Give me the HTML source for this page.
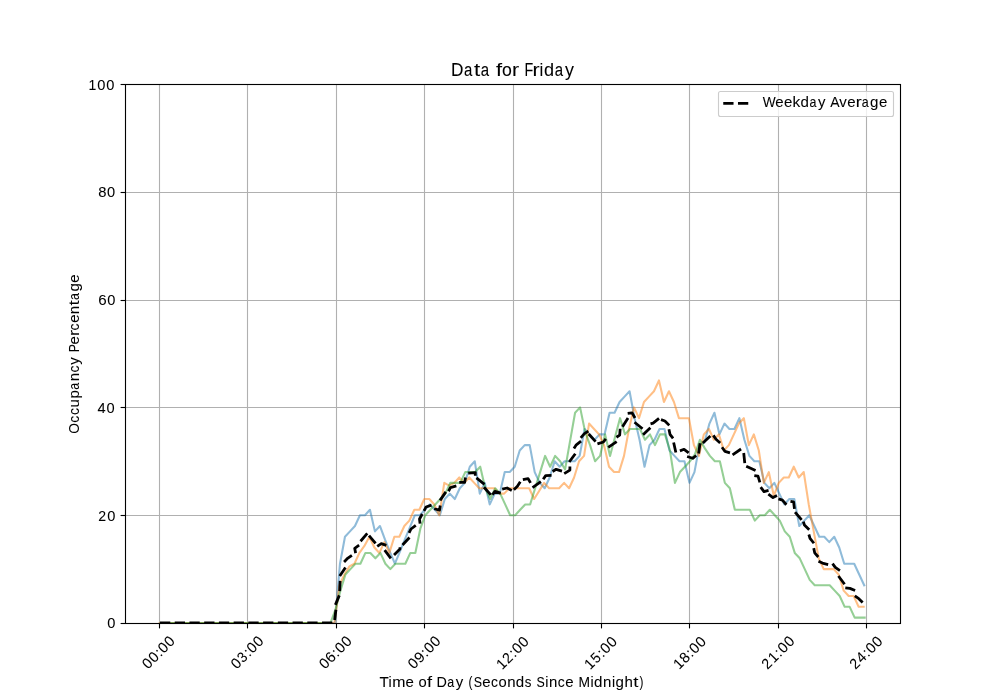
<!DOCTYPE html><html><head><meta charset="utf-8"><style>html,body{margin:0;padding:0;background:#fff;}svg{display:block;will-change:transform;}text{font-family:"Liberation Sans", sans-serif;fill:#000;}</style></head><body>
<svg width="1000" height="700" viewBox="0 0 1000 700">
<rect width="1000" height="700" fill="#fff"/>
<line x1="159.5" y1="84" x2="159.5" y2="623" stroke="#b0b0b0" stroke-width="1.11"/>
<line x1="247.5" y1="84" x2="247.5" y2="623" stroke="#b0b0b0" stroke-width="1.11"/>
<line x1="336.5" y1="84" x2="336.5" y2="623" stroke="#b0b0b0" stroke-width="1.11"/>
<line x1="424.5" y1="84" x2="424.5" y2="623" stroke="#b0b0b0" stroke-width="1.11"/>
<line x1="513.5" y1="84" x2="513.5" y2="623" stroke="#b0b0b0" stroke-width="1.11"/>
<line x1="601.5" y1="84" x2="601.5" y2="623" stroke="#b0b0b0" stroke-width="1.11"/>
<line x1="689.5" y1="84" x2="689.5" y2="623" stroke="#b0b0b0" stroke-width="1.11"/>
<line x1="778.5" y1="84" x2="778.5" y2="623" stroke="#b0b0b0" stroke-width="1.11"/>
<line x1="866.5" y1="84" x2="866.5" y2="623" stroke="#b0b0b0" stroke-width="1.11"/>
<line x1="125" y1="515.5" x2="900" y2="515.5" stroke="#b0b0b0" stroke-width="1.11"/>
<line x1="125" y1="407.5" x2="900" y2="407.5" stroke="#b0b0b0" stroke-width="1.11"/>
<line x1="125" y1="300.5" x2="900" y2="300.5" stroke="#b0b0b0" stroke-width="1.11"/>
<line x1="125" y1="192.5" x2="900" y2="192.5" stroke="#b0b0b0" stroke-width="1.11"/>
<g fill="none" stroke-width="2.08" stroke-linejoin="round" stroke-linecap="square" clip-path="url(#ax)">
<clipPath id="ax"><rect x="125" y="84" width="775" height="539"/></clipPath>
<polyline points="160.25,623.00 165.24,623.00 170.24,623.00 175.23,623.00 180.22,623.00 185.21,623.00 190.21,623.00 195.20,623.00 200.19,623.00 205.18,623.00 210.18,623.00 215.17,623.00 220.16,623.00 225.15,623.00 230.15,623.00 235.14,623.00 240.13,623.00 245.12,623.00 250.12,623.00 255.11,623.00 260.10,623.00 265.09,623.00 270.09,623.00 275.08,623.00 280.07,623.00 285.06,623.00 290.06,623.00 295.05,623.00 300.04,623.00 305.04,623.00 310.03,623.00 315.02,623.00 320.01,623.00 325.01,623.00 330.00,623.00 334.99,623.00 339.98,563.71 344.98,536.76 349.97,531.37 354.96,525.98 359.95,515.20 364.95,515.20 369.94,509.81 374.93,531.37 379.92,525.98 384.92,539.46 389.91,551.85 394.90,563.71 399.89,551.58 404.89,539.46 409.88,527.33 414.87,515.20 419.87,515.20 424.86,509.81 429.85,504.42 434.84,509.81 439.84,515.20 444.83,499.03 449.82,493.64 454.81,499.03 459.81,488.25 464.80,482.86 469.79,466.69 474.78,461.30 479.78,493.64 484.77,482.86 489.76,504.42 494.75,493.64 499.75,493.64 504.74,472.08 509.73,472.08 514.72,466.69 519.72,450.52 524.71,445.13 529.70,445.13 534.70,472.08 539.69,482.86 544.68,488.25 549.67,477.47 554.67,461.30 559.66,466.69 564.65,461.30 569.64,461.30 574.64,461.30 579.63,455.91 584.62,428.96 589.61,434.35 594.61,439.74 599.60,434.35 604.59,434.35 609.58,412.79 614.58,412.79 619.57,402.01 624.56,396.62 629.55,391.23 634.55,418.18 639.54,439.74 644.53,466.69 649.52,445.13 654.52,439.74 659.51,428.96 664.50,428.96 669.50,450.52 674.49,455.91 679.48,461.30 684.47,461.30 689.47,482.86 694.46,472.08 699.45,445.13 704.44,442.44 709.44,423.57 714.43,412.79 719.42,434.35 724.41,423.57 729.41,428.96 734.40,428.96 739.39,418.18 744.38,439.74 749.38,455.91 754.37,461.30 759.36,461.30 764.35,482.86 769.35,488.25 774.34,482.86 779.33,493.64 784.33,504.42 789.32,499.03 794.31,499.03 799.30,525.98 804.30,520.59 809.29,515.20 814.28,525.98 819.27,536.76 824.27,536.76 829.26,542.15 834.25,536.76 839.24,547.54 844.24,563.71 849.23,563.71 854.22,563.71 859.21,574.49 864.21,585.27" stroke="#1f77b4" stroke-opacity="0.5"/>
<polyline points="159.70,623.00 164.69,623.00 169.69,623.00 174.68,623.00 179.67,623.00 184.66,623.00 189.66,623.00 194.65,623.00 199.64,623.00 204.63,623.00 209.63,623.00 214.62,623.00 219.61,623.00 224.60,623.00 229.60,623.00 234.59,623.00 239.58,623.00 244.57,623.00 249.57,623.00 254.56,623.00 259.55,623.00 264.54,623.00 269.54,623.00 274.53,623.00 279.52,623.00 284.51,623.00 289.51,623.00 294.50,623.00 299.49,623.00 304.49,623.00 309.48,623.00 314.47,623.00 319.46,623.00 324.46,623.00 329.45,623.00 334.44,623.00 339.43,585.27 344.43,574.49 349.42,566.40 354.41,563.71 359.40,552.93 364.40,545.92 369.39,536.76 374.38,547.54 379.37,552.93 384.37,542.15 389.36,552.93 394.35,536.76 399.34,536.76 404.34,525.98 409.33,520.59 414.32,509.81 419.32,509.81 424.31,499.03 429.30,499.03 434.29,504.42 439.29,515.20 444.28,482.86 449.27,485.56 454.26,482.86 459.26,477.47 464.25,482.86 469.24,477.47 474.23,482.86 479.23,488.25 484.22,488.25 489.21,488.25 494.20,488.25 499.20,493.64 504.19,493.64 509.18,488.25 514.17,488.25 519.17,488.25 524.16,488.25 529.15,488.25 534.15,499.03 539.14,490.95 544.13,482.86 549.12,488.25 554.12,488.25 559.11,488.25 564.10,482.86 569.09,488.25 574.09,477.47 579.08,461.30 584.07,455.91 589.06,423.57 594.06,428.96 599.05,434.35 604.04,445.13 609.03,466.69 614.03,472.08 619.02,472.08 624.01,455.91 629.00,428.96 634.00,407.40 638.99,418.18 643.98,402.01 648.97,396.62 653.97,391.23 658.96,380.45 663.95,402.01 668.95,391.23 673.94,402.01 678.93,418.18 683.92,418.18 688.92,418.18 693.91,445.13 698.90,455.91 703.89,434.35 708.89,428.96 713.88,439.74 718.87,434.35 723.86,450.52 728.86,445.13 733.85,434.35 738.84,423.57 743.83,418.18 748.83,445.13 753.82,434.35 758.81,450.52 763.80,482.86 768.80,472.08 773.79,495.80 778.78,482.86 783.78,477.47 788.77,477.47 793.76,466.69 798.75,477.47 803.75,472.08 808.74,504.42 813.73,531.37 818.72,558.32 823.72,569.10 828.71,569.10 833.70,569.10 838.69,574.49 843.69,590.66 848.68,596.05 853.67,596.05 858.66,606.83 863.66,606.83" stroke="#ff7f0e" stroke-opacity="0.5"/>
<polyline points="160.70,623.00 165.69,623.00 170.69,623.00 175.68,623.00 180.67,623.00 185.66,623.00 190.66,623.00 195.65,623.00 200.64,623.00 205.63,623.00 210.63,623.00 215.62,623.00 220.61,623.00 225.60,623.00 230.60,623.00 235.59,623.00 240.58,623.00 245.57,623.00 250.57,623.00 255.56,623.00 260.55,623.00 265.54,623.00 270.54,623.00 275.53,623.00 280.52,623.00 285.51,623.00 290.51,623.00 295.50,623.00 300.49,623.00 305.49,623.00 310.48,623.00 315.47,623.00 320.46,623.00 325.46,623.00 330.45,623.00 335.44,609.52 340.43,590.66 345.43,574.49 350.42,569.10 355.41,563.71 360.40,563.71 365.40,552.93 370.39,552.93 375.38,558.32 380.37,552.93 385.37,563.71 390.36,569.10 395.35,563.71 400.34,563.71 405.34,563.71 410.33,552.93 415.32,552.93 420.32,528.67 425.31,515.20 430.30,509.81 435.29,504.42 440.29,499.03 445.28,493.64 450.27,482.86 455.26,482.86 460.26,482.86 465.25,472.08 470.24,472.08 475.23,472.08 480.23,466.69 485.22,488.25 490.21,499.03 495.20,488.25 500.20,493.64 505.19,504.42 510.18,515.20 515.17,515.20 520.17,509.81 525.16,504.42 530.15,504.42 535.15,488.25 540.14,472.08 545.13,455.91 550.12,466.69 555.12,455.91 560.11,461.30 565.10,469.38 570.09,440.82 575.09,412.79 580.08,407.40 585.07,431.65 590.06,445.13 595.06,461.30 600.05,455.91 605.04,434.35 610.03,455.91 615.03,437.05 620.02,418.18 625.01,434.35 630.00,428.96 635.00,428.96 639.99,428.96 644.98,439.74 649.97,434.35 654.97,445.13 659.96,434.35 664.95,434.35 669.95,450.52 674.94,482.86 679.93,472.08 684.92,466.69 689.92,461.30 694.91,454.29 699.90,439.74 704.89,448.36 709.89,455.91 714.88,461.30 719.87,461.30 724.86,482.86 729.86,488.25 734.85,509.81 739.84,509.81 744.83,509.81 749.83,509.81 754.82,520.59 759.81,515.20 764.80,515.20 769.80,509.81 774.79,515.20 779.78,520.59 784.78,531.37 789.77,536.76 794.76,552.93 799.75,558.32 804.75,569.10 809.74,579.88 814.73,585.27 819.72,585.27 824.72,585.27 829.71,585.27 834.70,590.66 839.69,596.05 844.69,606.83 849.68,606.83 854.67,617.61 859.66,617.61 864.66,617.61" stroke="#2ca02c" stroke-opacity="0.5"/>
<polyline points="160,623 334.74,623" stroke="#000" stroke-width="2.78" stroke-dasharray="10.28 4.45" stroke-linecap="butt"/>
<path d="M334.57,620.00 L335.93,609.80 M335.38,604.85 L339.32,595.35 M339.68,591.14 L340.12,580.86 M339.75,576.03 L345.45,567.47 M344.06,561.94 L347.90,558.10 L351.87,555.32 M355.62,553.12 L354.70,548.30 L359.10,545.23 M360.55,541.24 L367.25,533.46 M369.01,535.55 L375.59,543.45 M377.23,546.45 L381.30,543.60 L386.33,545.32 M384.65,550.20 L390.85,558.40 M394.04,554.96 L400.00,549.00 L400.00,547.15 M402.51,545.03 L409.49,537.47 M409.07,532.86 L411.00,529.00 L415.77,525.42 M420.07,523.55 L419.50,519.00 L422.27,514.02 M424.01,510.98 L426.00,507.00 L431.54,505.15 M434.14,508.77 L439.50,510.20 L440.24,505.52 M440.06,500.40 L445.84,491.90 M448.50,491.25 L450.40,487.60 L456.35,485.96 M459.25,482.40 L464.60,482.40 L465.50,477.56 M468.22,473.07 L475.30,472.60 L475.30,475.78 M476.42,477.91 L484.48,484.29 M483.96,487.28 L490.84,494.92 M492.51,494.82 L494.90,491.40 L500.79,493.04 M502.18,489.08 L507.10,488.00 L511.76,490.41 M513.88,489.68 L517.40,486.30 L520.28,481.73 M522.86,479.70 L528.10,478.60 L530.53,482.88 M532.52,487.54 L540.88,481.56 M543.20,479.28 L545.70,475.60 L551.53,475.47 M552.59,471.47 L556.10,469.30 L561.99,471.08 M564.20,473.66 L569.90,470.10 L569.90,466.54 M569.21,462.04 L575.29,453.76 M573.95,448.40 L576.30,444.80 L581.05,441.17 M580.75,437.91 L584.40,433.70 L588.34,431.12 M588.69,434.00 L595.61,441.60 M597.42,443.87 L603.40,442.00 L605.86,438.82 M608.21,447.46 L616.69,441.64 M616.41,437.25 L619.70,435.10 L620.16,428.77 M622.50,426.64 L628.00,417.96 M627.68,413.49 L632.10,412.90 L635.02,417.94 M634.56,422.26 L642.54,428.74 M643.03,434.85 L650.37,427.65 M650.53,423.86 L653.10,423.10 L659.01,418.33 M661.01,419.66 L664.90,421.00 L669.26,425.36 M668.94,429.21 L670.00,434.30 L673.09,438.34 M673.64,442.53 L675.86,452.57 M679.90,450.91 L684.10,449.30 L688.68,452.82 M687.16,456.45 L692.70,458.30 L696.15,455.51 M698.65,453.49 L700.05,443.31 M702.83,442.90 L710.37,435.90 M713.34,435.37 L716.00,439.30 L720.15,442.96 M721.97,447.23 L725.00,451.30 L729.98,452.81 M732.55,454.79 L741.05,449.01 M743.72,452.99 L744.78,463.21 M746.24,466.24 L755.56,470.56 M754.31,475.61 L758.00,476.10 L759.90,482.37 M760.68,487.14 L764.00,491.60 L768.56,490.39 M768.37,494.06 L773.00,497.60 L776.98,495.61 M778.45,498.84 L782.40,500.10 L786.39,504.76 M790.46,501.32 L793.60,501.80 L794.47,508.85 M795.07,512.04 L801.63,519.96 M803.38,521.69 L804.40,525.00 L809.22,529.82 M808.86,534.50 L810.00,538.30 L813.92,543.25 M813.72,548.13 L814.70,552.80 L818.28,556.98 M818.50,561.15 L822.40,563.10 L828.14,564.54 M832.52,563.61 L835.30,567.40 L839.91,570.55 M838.42,575.99 L844.58,584.21 M845.29,587.87 L849.90,588.40 L855.13,590.52 M854.83,595.92 L858.80,598.70 L862.64,602.54" stroke="#000" stroke-width="2.78" stroke-linecap="butt"/>
</g>
<g stroke="#000" stroke-width="1.11" fill="none">
<rect x="125.5" y="84.5" width="775" height="539"/>
<line x1="120.6" y1="623.5" x2="125.5" y2="623.5"/>
<line x1="120.6" y1="515.5" x2="125.5" y2="515.5"/>
<line x1="120.6" y1="407.5" x2="125.5" y2="407.5"/>
<line x1="120.6" y1="300.5" x2="125.5" y2="300.5"/>
<line x1="120.6" y1="192.5" x2="125.5" y2="192.5"/>
<line x1="120.6" y1="84.5" x2="125.5" y2="84.5"/>
<line x1="159.5" y1="623.5" x2="159.5" y2="628.4"/>
<line x1="247.5" y1="623.5" x2="247.5" y2="628.4"/>
<line x1="336.5" y1="623.5" x2="336.5" y2="628.4"/>
<line x1="424.5" y1="623.5" x2="424.5" y2="628.4"/>
<line x1="513.5" y1="623.5" x2="513.5" y2="628.4"/>
<line x1="601.5" y1="623.5" x2="601.5" y2="628.4"/>
<line x1="689.5" y1="623.5" x2="689.5" y2="628.4"/>
<line x1="778.5" y1="623.5" x2="778.5" y2="628.4"/>
<line x1="866.5" y1="623.5" x2="866.5" y2="628.4"/>
</g>
<g transform="translate(147.80,670.02) rotate(-45)" font-size="14.72" stroke="#000" stroke-width="0.06"><text transform="translate(0.34,0) scale(0.995,1)">0</text><text transform="translate(9.17,0) scale(0.995,1)">0</text><text transform="translate(17.91,0) scale(1.021,1)">:</text><text transform="translate(22.67,0) scale(0.995,1)">0</text><text transform="translate(31.50,0) scale(0.995,1)">0</text></g>
<g transform="translate(236.49,670.02) rotate(-45)" font-size="14.72" stroke="#000" stroke-width="0.06"><text transform="translate(0.34,0) scale(0.995,1)">0</text><text transform="translate(9.35,0) scale(0.955,1)">3</text><text transform="translate(17.91,0) scale(1.021,1)">:</text><text transform="translate(22.67,0) scale(0.995,1)">0</text><text transform="translate(31.50,0) scale(0.995,1)">0</text></g>
<g transform="translate(324.65,670.11) rotate(-45)" font-size="14.72" stroke="#000" stroke-width="0.06"><text transform="translate(0.34,0) scale(0.995,1)">0</text><text transform="translate(9.03,0) scale(1.030,1)">6</text><text transform="translate(17.91,0) scale(1.021,1)">:</text><text transform="translate(22.67,0) scale(0.995,1)">0</text><text transform="translate(31.50,0) scale(0.995,1)">0</text></g>
<g transform="translate(413.60,670.11) rotate(-45)" font-size="14.72" stroke="#000" stroke-width="0.06"><text transform="translate(0.34,0) scale(0.995,1)">0</text><text transform="translate(8.99,0) scale(1.028,1)">9</text><text transform="translate(17.91,0) scale(1.021,1)">:</text><text transform="translate(22.67,0) scale(0.995,1)">0</text><text transform="translate(31.50,0) scale(0.995,1)">0</text></g>
<g transform="translate(501.80,670.61) rotate(-45)" font-size="14.72" stroke="#000" stroke-width="0.06"><text transform="translate(0.46,0) scale(0.950,1)">1</text><text transform="translate(9.14,0) scale(0.959,1)">2</text><text transform="translate(17.91,0) scale(1.021,1)">:</text><text transform="translate(22.67,0) scale(0.995,1)">0</text><text transform="translate(31.50,0) scale(0.995,1)">0</text></g>
<g transform="translate(590.00,670.61) rotate(-45)" font-size="14.72" stroke="#000" stroke-width="0.06"><text transform="translate(0.46,0) scale(0.950,1)">1</text><text transform="translate(9.35,0) scale(0.939,1)">5</text><text transform="translate(17.91,0) scale(1.021,1)">:</text><text transform="translate(22.67,0) scale(0.995,1)">0</text><text transform="translate(31.50,0) scale(0.995,1)">0</text></g>
<g transform="translate(678.90,670.45) rotate(-45)" font-size="14.72" stroke="#000" stroke-width="0.06"><text transform="translate(0.46,0) scale(0.950,1)">1</text><text transform="translate(9.13,0) scale(1.006,1)">8</text><text transform="translate(17.91,0) scale(1.021,1)">:</text><text transform="translate(22.67,0) scale(0.995,1)">0</text><text transform="translate(31.50,0) scale(0.995,1)">0</text></g>
<g transform="translate(767.39,670.11) rotate(-45)" font-size="14.72" stroke="#000" stroke-width="0.06"><text transform="translate(0.31,0) scale(0.959,1)">2</text><text transform="translate(9.29,0) scale(0.950,1)">1</text><text transform="translate(17.91,0) scale(1.021,1)">:</text><text transform="translate(22.67,0) scale(0.995,1)">0</text><text transform="translate(31.50,0) scale(0.995,1)">0</text></g>
<g transform="translate(855.39,670.27) rotate(-45)" font-size="14.72" stroke="#000" stroke-width="0.06"><text transform="translate(0.31,0) scale(0.959,1)">2</text><text transform="translate(9.17,0) scale(0.995,1)">4</text><text transform="translate(17.91,0) scale(1.021,1)">:</text><text transform="translate(22.67,0) scale(0.995,1)">0</text><text transform="translate(31.50,0) scale(0.995,1)">0</text></g>
<g transform="translate(380.00,687.37)" font-size="14.72" stroke="#000" stroke-width="0.06"><text transform="translate(-0.38,0) scale(1.029,1)">T</text><text transform="translate(8.46,0) scale(0.965,1)">i</text><text transform="translate(12.17,0) scale(1.075,1)">m</text><text transform="translate(25.60,0) scale(1.019,1)">e</text><text transform="translate(38.56,0) scale(1.003,1)">o</text><text transform="translate(46.97,0) scale(1.239,1)">f</text><text transform="translate(56.39,0) scale(0.976,1)">D</text><text transform="translate(67.19,0) scale(0.849,1)">a</text><text transform="translate(75.77,0) scale(1.013,1)">y</text><text transform="translate(88.48,0) scale(0.798,1)">(</text><text transform="translate(93.78,0) scale(0.841,1)">S</text><text transform="translate(102.36,0) scale(1.019,1)">e</text><text transform="translate(110.94,0) scale(0.947,1)">c</text><text transform="translate(118.54,0) scale(1.003,1)">o</text><text transform="translate(127.15,0) scale(1.018,1)">n</text><text transform="translate(135.81,0) scale(1.026,1)">d</text><text transform="translate(144.87,0) scale(0.905,1)">s</text><text transform="translate(156.48,0) scale(0.841,1)">S</text><text transform="translate(165.29,0) scale(0.965,1)">i</text><text transform="translate(169.05,0) scale(1.018,1)">n</text><text transform="translate(177.76,0) scale(0.947,1)">c</text><text transform="translate(185.34,0) scale(1.019,1)">e</text><text transform="translate(198.38,0) scale(0.941,1)">M</text><text transform="translate(210.49,0) scale(0.965,1)">i</text><text transform="translate(214.12,0) scale(1.026,1)">d</text><text transform="translate(223.06,0) scale(1.018,1)">n</text><text transform="translate(231.94,0) scale(0.965,1)">i</text><text transform="translate(235.57,0) scale(1.026,1)">g</text><text transform="translate(244.46,0) scale(1.025,1)">h</text><text transform="translate(253.13,0) scale(1.261,1)">t</text><text transform="translate(259.52,0) scale(0.798,1)">)</text></g>
<g transform="translate(107.03,627.50)" font-size="14.72" stroke="#000" stroke-width="0.06"><text transform="translate(0.34,0) scale(0.995,1)">0</text></g>
<g transform="translate(98.03,520.70)" font-size="14.72" stroke="#000" stroke-width="0.06"><text transform="translate(0.31,0) scale(0.959,1)">2</text><text transform="translate(9.17,0) scale(0.995,1)">0</text></g>
<g transform="translate(97.28,413.15)" font-size="14.72" stroke="#000" stroke-width="0.06"><text transform="translate(0.34,0) scale(0.995,1)">4</text><text transform="translate(9.17,0) scale(0.995,1)">0</text></g>
<g transform="translate(98.15,305.10)" font-size="14.72" stroke="#000" stroke-width="0.06"><text transform="translate(0.20,0) scale(1.030,1)">6</text><text transform="translate(9.17,0) scale(0.995,1)">0</text></g>
<g transform="translate(97.90,197.30)" font-size="14.72" stroke="#000" stroke-width="0.06"><text transform="translate(0.30,0) scale(1.006,1)">8</text><text transform="translate(9.17,0) scale(0.995,1)">0</text></g>
<g transform="translate(88.15,89.50)" font-size="14.72" stroke="#000" stroke-width="0.06"><text transform="translate(0.46,0) scale(0.950,1)">1</text><text transform="translate(9.17,0) scale(0.995,1)">0</text><text transform="translate(18.00,0) scale(0.995,1)">0</text></g>
<g transform="translate(79.35,433.81) rotate(-90)" font-size="14.72" stroke="#000" stroke-width="0.06"><text transform="translate(0.13,0) scale(0.933,1)">O</text><text transform="translate(11.10,0) scale(0.947,1)">c</text><text transform="translate(18.72,0) scale(0.947,1)">c</text><text transform="translate(26.39,0) scale(1.018,1)">u</text><text transform="translate(35.26,0) scale(1.027,1)">p</text><text transform="translate(44.08,0) scale(0.849,1)">a</text><text transform="translate(52.55,0) scale(1.018,1)">n</text><text transform="translate(61.25,0) scale(0.947,1)">c</text><text transform="translate(69.08,0) scale(1.013,1)">y</text><text transform="translate(81.68,0) scale(0.835,1)">P</text><text transform="translate(89.32,0) scale(1.019,1)">e</text><text transform="translate(97.81,0) scale(1.209,1)">r</text><text transform="translate(103.36,0) scale(0.947,1)">c</text><text transform="translate(110.94,0) scale(1.019,1)">e</text><text transform="translate(119.62,0) scale(1.018,1)">n</text><text transform="translate(128.23,0) scale(1.261,1)">t</text><text transform="translate(133.89,0) scale(0.849,1)">a</text><text transform="translate(142.22,0) scale(1.026,1)">g</text><text transform="translate(151.02,0) scale(1.019,1)">e</text></g>
<g transform="translate(450.88,75.92)" font-size="17.66" stroke="#000" stroke-width="0.06"><text transform="translate(0.22,0) scale(0.976,1)">D</text><text transform="translate(13.17,0) scale(0.849,1)">a</text><text transform="translate(23.10,0) scale(1.261,1)">t</text><text transform="translate(29.87,0) scale(0.849,1)">a</text><text transform="translate(45.05,0) scale(1.239,1)">f</text><text transform="translate(51.01,0) scale(1.003,1)">o</text><text transform="translate(61.10,0) scale(1.209,1)">r</text><text transform="translate(73.59,0) scale(0.809,1)">F</text><text transform="translate(81.53,0) scale(1.209,1)">r</text><text transform="translate(88.70,0) scale(0.965,1)">i</text><text transform="translate(93.05,0) scale(1.026,1)">d</text><text transform="translate(103.81,0) scale(0.849,1)">a</text><text transform="translate(114.08,0) scale(1.013,1)">y</text></g>
<rect x="718.5" y="91.5" width="175" height="25" rx="2" ry="2" fill="#fff" fill-opacity="0.8" stroke="#cccccc" stroke-width="1.11"/>
<line x1="723.25" y1="103.4" x2="748.3" y2="103.4" stroke="#000" stroke-width="2.78" stroke-dasharray="10.28 4.45"/>
<g transform="translate(762.25,106.50)" font-size="14.72" stroke="#000" stroke-width="0.06"><text transform="translate(0.40,0) scale(0.930,1)">W</text><text transform="translate(13.10,0) scale(1.019,1)">e</text><text transform="translate(21.63,0) scale(1.019,1)">e</text><text transform="translate(30.26,0) scale(1.055,1)">k</text><text transform="translate(38.21,0) scale(1.026,1)">d</text><text transform="translate(47.19,0) scale(0.849,1)">a</text><text transform="translate(55.76,0) scale(1.013,1)">y</text><text transform="translate(68.09,0) scale(0.951,1)">A</text><text transform="translate(77.11,0) scale(1.018,1)">v</text><text transform="translate(85.09,0) scale(1.019,1)">e</text><text transform="translate(93.58,0) scale(1.209,1)">r</text><text transform="translate(99.51,0) scale(0.849,1)">a</text><text transform="translate(107.84,0) scale(1.026,1)">g</text><text transform="translate(116.64,0) scale(1.019,1)">e</text></g>
</svg></body></html>
